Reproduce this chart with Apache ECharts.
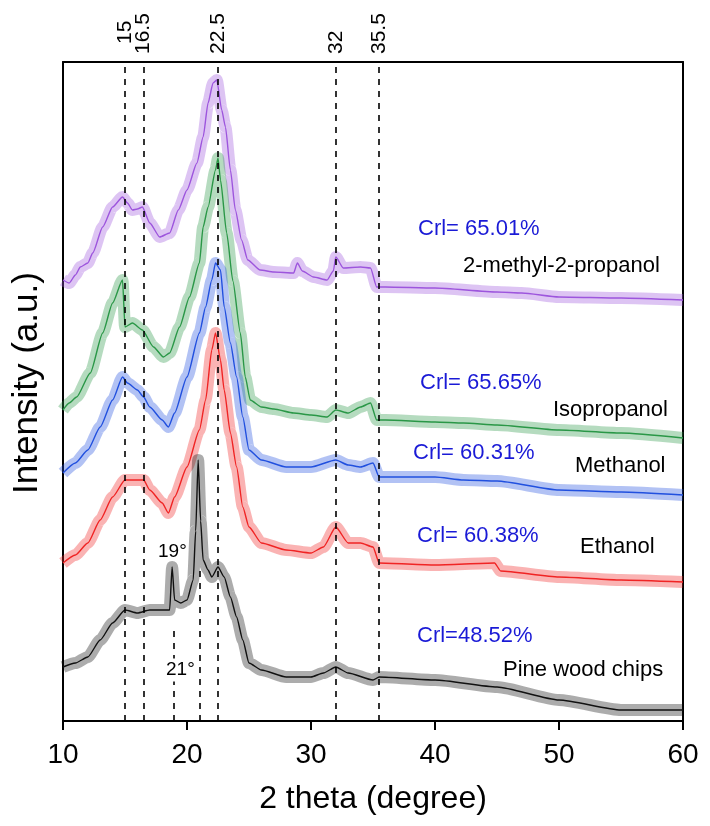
<!DOCTYPE html>
<html>
<head>
<meta charset="utf-8">
<script src="https://cdn.jsdelivr.net/npm/echarts@6/dist/echarts.min.js"></script>
<style>
html,body{margin:0;padding:0;background:#fff;}
#chart{width:710px;height:826px;}
</style>
</head>
<body>
<div id="chart"></div>
<script>
// 2 theta (degree) vs intensity (a.u., stacked offsets as drawn)
const methylPropanol = [[10,441],[10.5,438],[11,446],[11.4,454],[12,458],[12.4,468],[13.2,494],[14,514],[14.8,524],[15.2,518],[15.6,511],[16,512],[16.4,514],[17,498],[17.8,484],[18.6,488],[19.3,511],[20,531],[20.8,558],[21.3,584],[21.7,618],[22.1,638],[22.4,641],[22.8,611],[23.1,594],[23.5,551],[23.9,511],[24.4,481],[24.9,461],[25.9,451],[27,449],[28.6,448],[28.9,458],[29.3,450],[30.2,444],[31.3,441],[31.8,450],[32,464],[32.6,453],[34,454],[34.8,453],[35.3,434],[36,434],[40,433],[45,429],[47,428],[50,424],[55,423],[60,421]];
const isopropanol = [[10,311],[10.5,318],[11.1,324],[12.2,348],[13.2,388],[14,418],[14.8,441],[15,394],[15.6,398],[16.4,391],[17.3,374],[18.1,364],[18.6,368],[19.4,394],[20.2,424],[21,458],[21.3,494],[21.7,514],[22.3,551],[22.5,563],[22.7,541],[23.2,488],[23.7,440],[24.3,388],[24.7,344],[25.1,321],[26,314],[27,312],[28.6,308],[30,306],[31.3,304],[32,311],[33,308],[34,314],[34.8,318],[35.3,301],[36,301],[40,299],[42.3,298],[45,296],[50,291],[55,288],[60,283]];
const methanol = [[10,248],[11,258],[12,271],[13,294],[14,321],[14.8,344],[15.2,338],[16,331],[16.5,324],[17,314],[18,301],[18.5,294],[19,308],[20,344],[21,388],[21.5,414],[22,441],[22.3,458],[22.7,451],[23,414],[23.5,378],[24,344],[24.5,304],[25,271],[26,261],[28,254],[30,254],[32,261],[33,256],[34,254],[35,258],[35.5,244],[40,244],[42.3,241],[45,240],[50,231],[55,229],[60,226]];
const ethanol = [[10,158],[11,166],[12,178],[13,201],[14,224],[15,241],[16,241],[16.5,241],[17,231],[18,218],[18.5,208],[19,224],[20,254],[21,291],[21.5,321],[22,371],[22.3,388],[22.7,361],[23,331],[23.5,288],[24,254],[24.5,214],[25,194],[26,178],[28,171],[30,168],[31,174],[32,194],[33,178],[34,178],[35,174],[35.5,158],[40,156],[44.8,158],[45.3,150],[50,144],[55,141],[60,139]];
const pineWood = [[10,54],[11,58],[12,64],[13,81],[14,98],[15,111],[16,108],[17,111],[18,111],[18.6,111],[18.8,154],[19,121],[19.5,118],[20,121],[20.5,141],[20.7,190],[20.9,261],[21.1,200],[21.3,161],[21.7,151],[22,144],[22.5,154],[23,144],[23.5,124],[24,104],[24.5,81],[25,58],[26,51],[28,44],[30,44],[31,48],[32,54],[33,48],[35,41],[35.5,44],[40,41],[45,34],[50,21],[55,11],[60,11]];

const seriesNames = ['2-methyl-2-propanol','Isopropanol','Methanol','Ethanol','Pine wood chips'];
const crlLabels = ['Crl= 65.01%','Crl= 65.65%','Crl= 60.31%','Crl= 60.38%','Crl=48.52%'];
const peakLines = [15, 16.5, 22.5, 32, 35.5];
const peakLabels = ['15','16.5','22.5','32','35.5'];
const shortPeakLines = [[18.9, 91], [21, 150]];
const shortPeakLabels = ['19°','21°'];

const dataSets = [methylPropanol, isopropanol, methanol, ethanol, pineWood];
const colors = ['#9d55dd', '#2a9747', '#2150df', '#f02424', '#111111'];

const series = [];
dataSets.forEach((d, i) => {
  series.push({
    type: 'line', name: seriesNames[i] + ' band', data: d, showSymbol: false, silent: true,
    smooth: 0.2, smoothMonotone: 'x',
    lineStyle: { color: colors[i], width: 12, opacity: 0.35, join: 'round' }, z: 2
  });
  series.push({
    type: 'line', name: seriesNames[i], data: d, showSymbol: false, silent: true,
    smooth: 0.2, smoothMonotone: 'x',
    lineStyle: { color: colors[i], width: 1.4 }, z: 3
  });
});
series.push({
  type: 'line', data: [], silent: true,
  markLine: {
    silent: true, symbol: ['none', 'none'], label: { show: false },
    lineStyle: { color: '#000', width: 1.6, type: [6, 6] },
    data: peakLines.map(v => ({ xAxis: v })).concat(
      shortPeakLines.map(p => [{ coord: [p[0], 0] }, { coord: [p[0], p[1]] }])
    )
  },
  z: 4
});

const chart = echarts.init(document.getElementById('chart'), null, { renderer: 'canvas' });
const font = 'Liberation Sans, Arial, sans-serif';
const txt = (text, x, y, color, size, extra) => ({
  type: 'text', x: x, y: y, z: 10,
  style: Object.assign({ text: text, fill: color, font: size + 'px ' + font, textVerticalAlign: 'middle' }, extra || {})
});

chart.setOption({
  animation: false,
  grid: { left: 63, right: 27, top: 62, bottom: 105 },
  xAxis: [{
    type: 'value', min: 10, max: 60, interval: 10, position: 'bottom',
    name: '2 theta (degree)', nameLocation: 'middle', nameGap: 62,
    nameTextStyle: { fontSize: 32, color: '#000', fontFamily: font },
    axisLine: { lineStyle: { color: '#000', width: 2 } },
    axisTick: { show: true, inside: false, length: 9, lineStyle: { color: '#000', width: 2 } },
    axisLabel: { fontSize: 28, color: '#000', fontFamily: font, margin: 20 },
    splitLine: { show: false }
  }, {
    type: 'value', min: 10, max: 60, position: 'top',
    axisLine: { show: true, onZero: false, lineStyle: { color: '#000', width: 2 } },
    axisTick: { show: false }, axisLabel: { show: false }, splitLine: { show: false }
  }],
  yAxis: [{
    type: 'value', min: 0, max: 659, position: 'left',
    axisLine: { show: true, onZero: false, lineStyle: { color: '#000', width: 2 } },
    axisTick: { show: false }, axisLabel: { show: false }, splitLine: { show: false }
  }, {
    type: 'value', min: 0, max: 659, position: 'right',
    axisLine: { show: true, onZero: false, lineStyle: { color: '#000', width: 2 } },
    axisTick: { show: false }, axisLabel: { show: false }, splitLine: { show: false }
  }],
  series: series
});

// annotations
const graphics = [
  txt(crlLabels[0], 418, 229, '#1a1ad6', 22),
  txt(seriesNames[0], 463, 266, '#000', 22),
  txt(crlLabels[1], 420, 383, '#1a1ad6', 22),
  txt(seriesNames[1], 553, 410, '#000', 22),
  txt(crlLabels[2], 413, 453, '#1a1ad6', 22),
  txt(seriesNames[2], 575, 466, '#000', 22),
  txt(crlLabels[3], 417, 536, '#1a1ad6', 22),
  txt(seriesNames[3], 580, 547, '#000', 22),
  txt(crlLabels[4], 417, 636, '#1a1ad6', 22),
  txt(seriesNames[4], 503, 670, '#000', 22),
  txt(shortPeakLabels[0], 158, 552, '#000', 19),
  txt(shortPeakLabels[1], 165, 670, '#000', 19, { backgroundColor: '#fff', padding: [2, 1] }),
  { type: 'text', x: 27, y: 383, rotation: Math.PI / 2, z: 10,
    style: { text: 'Intensity (a.u.)', fill: '#000', font: '35px ' + font, textAlign: 'center', textVerticalAlign: 'middle' } }
];
peakLines.forEach((v, i) => {
  const px = chart.convertToPixel({ xAxisIndex: 0 }, v);
  graphics.push({ type: 'text', x: px, y: v === 15 ? 44 : 54, rotation: Math.PI / 2, z: 10,
    style: { text: peakLabels[i], fill: '#000', font: '21px ' + font, textAlign: 'left', textVerticalAlign: 'middle' } });
});
chart.setOption({ graphic: graphics });
</script>
</body>
</html>
